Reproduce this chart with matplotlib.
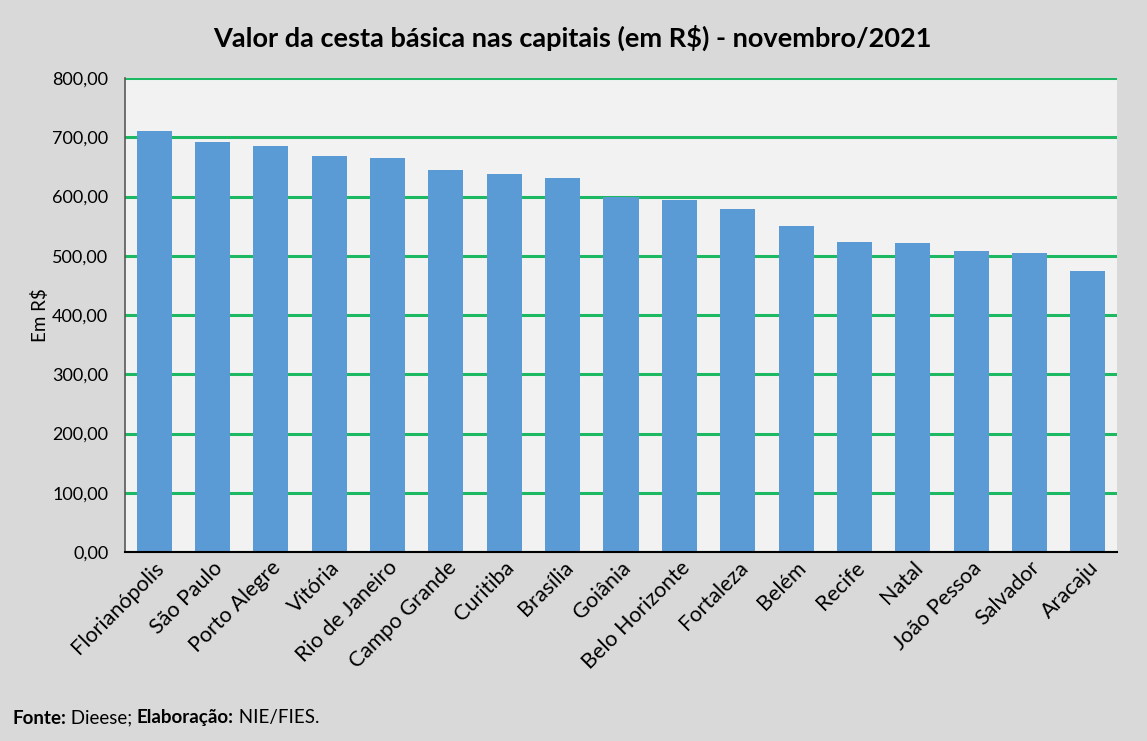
import matplotlib
matplotlib.use("Agg")
import matplotlib.pyplot as plt
from matplotlib.ticker import FuncFormatter

plt.rcParams['font.family'] = ['Lato', 'DejaVu Sans']

cities = ["Florianópolis", "São Paulo", "Porto Alegre", "Vitória", "Rio de Janeiro",
          "Campo Grande", "Curitiba", "Brasília", "Goiânia", "Belo Horizonte",
          "Fortaleza", "Belém", "Recife", "Natal", "João Pessoa", "Salvador", "Aracaju"]
values = [710.3, 692.3, 686.0, 669.0, 665.4, 645.0, 638.8, 631.1, 599.9, 594.8,
          579.3, 550.9, 523.9, 520.8, 508.8, 505.3, 474.0]
yticks = [0, 100, 200, 300, 400, 500, 600, 700, 800]

fig = plt.figure(figsize=(11.47, 7.41), dpi=100, facecolor='#d9d9d9')
ax = fig.add_axes([125/1147, 1 - 552/741, (1117-125)/1147, (552-78)/741])
ax.set_facecolor('#f2f2f2')

x = list(range(len(cities)))
ax.bar(x, values, width=0.6, color='#5b9bd5', zorder=3)
ax.set_xlim(-0.5, len(cities) - 0.5)
ax.set_ylim(0, 800)
ax.set_yticks(yticks)
ax.yaxis.set_major_formatter(FuncFormatter(lambda v, p: f"{v:.2f}".replace('.', ',')))
ax.grid(axis='y', color='#1db862', linewidth=2.2, zorder=1)
ax.set_axisbelow(True)
for s in ['top', 'right']:
    ax.spines[s].set_visible(False)
ax.spines['left'].set_color('#595959')
ax.spines['left'].set_linewidth(1.2)
ax.spines['bottom'].set_color('#000000')
ax.spines['bottom'].set_linewidth(1.5)
ax.spines['bottom'].set_zorder(4)
ax.tick_params(axis='y', length=0, labelsize=13, pad=12, colors='#000000')
ax.tick_params(axis='x', length=0, labelsize=15.5, pad=4)
ax.set_xticks(x)
ax.set_xticklabels(cities, rotation=45, ha='right', rotation_mode='anchor')
ax.set_ylabel('Em R$', fontsize=13.5, labelpad=2)

fig.text(572/1147, 1 - 38/741, 'Valor da cesta básica nas capitais (em R$) - novembro/2021',
         ha='center', va='center', fontsize=19.5, fontweight='bold')

parts = [('Fonte:', 'bold'), (' Dieese; ', 'normal'), ('Elaboração:', 'bold'), (' NIE/FIES.', 'normal')]
fig.canvas.draw()
renderer = fig.canvas.get_renderer()
xpos = 12
for txt, w in parts:
    t = fig.text(xpos/1147, 1 - 718/741, txt, fontsize=13.5, fontweight=w, va='center', ha='left')
    bb = t.get_window_extent(renderer=renderer)
    xpos += bb.width

fig.savefig('out.png', dpi=100, facecolor=fig.get_facecolor())
